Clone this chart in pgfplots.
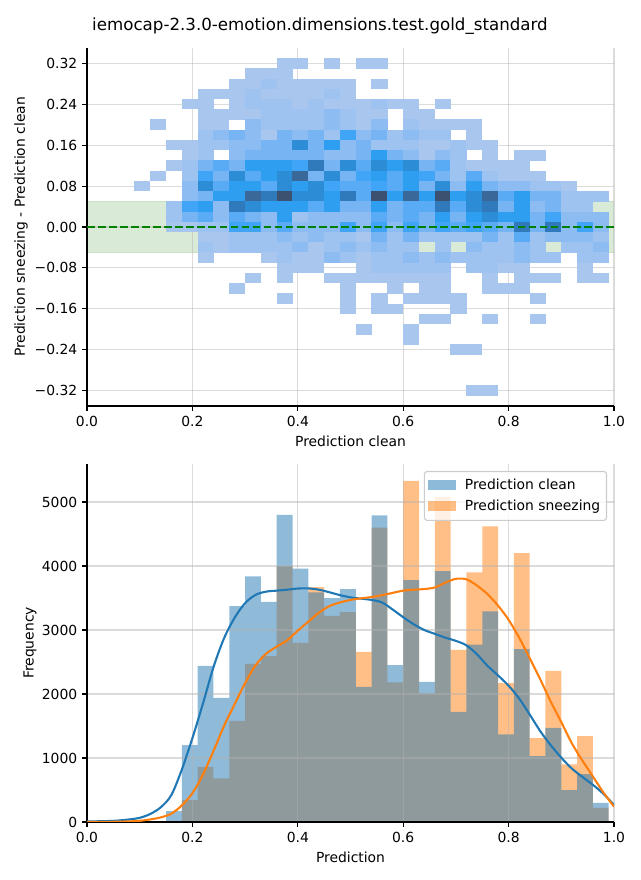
\documentclass[border=0pt]{standalone}
\usepackage{fontspec}
\setmainfont{DejaVu Sans}
\usepackage{pgfplots}
\usepackage{pgfplotstable}
\pgfplotsset{compat=1.18}

\definecolor{cblue}{RGB}{31,119,180}
\definecolor{corange}{RGB}{255,127,14}
\definecolor{bandgreen}{RGB}{217,235,215}
\definecolor{bandedge}{RGB}{200,226,200}
\definecolor{dgreen}{RGB}{0,128,0}
\definecolor{gridc}{RGB}{176,176,176}
\definecolor{legedge}{RGB}{204,204,204}

\pgfdeclareplotmark{cell}{%
  \pgfpathrectangle{\pgfpoint{-5.79pt}{-3.78pt}}{\pgfpoint{11.58pt}{7.56pt}}%
  \pgfusepathqfill}

\pgfplotstableread[row sep=\\]{
x y c\\
0.375 0.32 1\\ 0.405 0.32 1\\ 0.465 0.32 1\\ 0.525 0.32 1\\ 0.555 0.32 1\\
0.315 0.30 1\\ 0.345 0.30 1\\ 0.375 0.30 1\\
0.285 0.28 1\\ 0.315 0.28 1\\ 0.345 0.28 2\\ 0.375 0.28 1\\ 0.405 0.28 1\\ 0.435 0.28 1\\ 0.465 0.28 1\\ 0.495 0.28 1\\ 0.555 0.28 1\\
0.225 0.26 1\\ 0.255 0.26 1\\ 0.285 0.26 1\\ 0.315 0.26 2\\ 0.345 0.26 1\\ 0.375 0.26 1\\ 0.405 0.26 1\\ 0.435 0.26 1\\ 0.465 0.26 2\\ 0.495 0.26 1\\
0.195 0.24 1\\ 0.225 0.24 1\\ 0.285 0.24 1\\ 0.315 0.24 2\\ 0.345 0.24 2\\ 0.375 0.24 2\\ 0.405 0.24 1\\ 0.435 0.24 2\\ 0.465 0.24 1\\ 0.495 0.24 1\\ 0.525 0.24 1\\ 0.555 0.24 2\\ 0.585 0.24 1\\ 0.615 0.24 1\\ 0.675 0.24 1\\
0.225 0.22 1\\ 0.255 0.22 1\\ 0.285 0.22 1\\ 0.315 0.22 1\\ 0.345 0.22 2\\ 0.375 0.22 2\\ 0.405 0.22 2\\ 0.435 0.22 2\\ 0.465 0.22 3\\ 0.495 0.22 2\\ 0.525 0.22 1\\ 0.555 0.22 1\\ 0.615 0.22 1\\ 0.645 0.22 1\\
0.135 0.20 1\\ 0.225 0.20 1\\ 0.255 0.20 1\\ 0.315 0.20 3\\ 0.345 0.20 2\\ 0.375 0.20 2\\ 0.405 0.20 2\\ 0.435 0.20 2\\ 0.465 0.20 3\\ 0.495 0.20 2\\ 0.525 0.20 1\\ 0.555 0.20 3\\ 0.615 0.20 2\\ 0.645 0.20 1\\ 0.675 0.20 1\\ 0.705 0.20 1\\ 0.735 0.20 1\\
0.225 0.18 2\\ 0.255 0.18 3\\ 0.285 0.18 4\\ 0.315 0.18 3\\ 0.345 0.18 1\\ 0.375 0.18 4\\ 0.405 0.18 3\\ 0.435 0.18 4\\ 0.465 0.18 2\\ 0.495 0.18 6\\ 0.525 0.18 3\\ 0.555 0.18 4\\ 0.585 0.18 2\\ 0.615 0.18 3\\ 0.645 0.18 2\\ 0.675 0.18 2\\ 0.735 0.18 1\\
0.165 0.16 1\\ 0.195 0.16 1\\ 0.225 0.16 2\\ 0.255 0.16 2\\ 0.285 0.16 3\\ 0.315 0.16 3\\ 0.345 0.16 4\\ 0.375 0.16 4\\ 0.405 0.16 8\\ 0.435 0.16 4\\ 0.465 0.16 7\\ 0.495 0.16 3\\ 0.525 0.16 4\\ 0.555 0.16 2\\ 0.585 0.16 2\\ 0.615 0.16 2\\ 0.645 0.16 1\\ 0.675 0.16 1\\ 0.705 0.16 2\\ 0.735 0.16 1\\ 0.765 0.16 1\\
0.195 0.14 1\\ 0.225 0.14 2\\ 0.285 0.14 3\\ 0.315 0.14 4\\ 0.345 0.14 4\\ 0.375 0.14 4\\ 0.405 0.14 4\\ 0.435 0.14 4\\ 0.465 0.14 3\\ 0.495 0.14 3\\ 0.525 0.14 4\\ 0.555 0.14 7\\ 0.585 0.14 4\\ 0.615 0.14 3\\ 0.645 0.14 1\\ 0.675 0.14 3\\ 0.705 0.14 2\\ 0.765 0.14 1\\ 0.825 0.14 1\\ 0.855 0.14 1\\
0.165 0.12 1\\ 0.195 0.12 2\\ 0.225 0.12 4\\ 0.255 0.12 5\\ 0.285 0.12 4\\ 0.315 0.12 7\\ 0.345 0.12 7\\ 0.375 0.12 7\\ 0.405 0.12 6\\ 0.435 0.12 9\\ 0.465 0.12 4\\ 0.495 0.12 8\\ 0.525 0.12 5\\ 0.555 0.12 8\\ 0.585 0.12 7\\ 0.615 0.12 8\\ 0.645 0.12 4\\ 0.675 0.12 5\\ 0.705 0.12 2\\ 0.735 0.12 1\\ 0.765 0.12 1\\ 0.795 0.12 1\\ 0.825 0.12 1\\
0.135 0.10 1\\ 0.195 0.10 2\\ 0.225 0.10 6\\ 0.255 0.10 4\\ 0.285 0.10 8\\ 0.315 0.10 5\\ 0.345 0.10 7\\ 0.375 0.10 8\\ 0.405 0.10 10\\ 0.435 0.10 4\\ 0.465 0.10 8\\ 0.495 0.10 4\\ 0.525 0.10 6\\ 0.555 0.10 7\\ 0.585 0.10 5\\ 0.615 0.10 7\\ 0.645 0.10 6\\ 0.675 0.10 4\\ 0.705 0.10 2\\ 0.735 0.10 5\\ 0.765 0.10 2\\ 0.795 0.10 1\\ 0.825 0.10 1\\ 0.855 0.10 1\\
0.105 0.08 1\\ 0.195 0.08 3\\ 0.225 0.08 8\\ 0.255 0.08 5\\ 0.285 0.08 7\\ 0.315 0.08 7\\ 0.345 0.08 5\\ 0.375 0.08 8\\ 0.405 0.08 7\\ 0.435 0.08 8\\ 0.465 0.08 6\\ 0.495 0.08 5\\ 0.525 0.08 5\\ 0.555 0.08 6\\ 0.585 0.08 5\\ 0.615 0.08 7\\ 0.645 0.08 4\\ 0.675 0.08 8\\ 0.705 0.08 3\\ 0.735 0.08 7\\ 0.765 0.08 4\\ 0.795 0.08 3\\ 0.825 0.08 3\\ 0.855 0.08 2\\ 0.885 0.08 2\\ 0.915 0.08 1\\
0.195 0.06 3\\ 0.225 0.06 4\\ 0.255 0.06 7\\ 0.285 0.06 7\\ 0.315 0.06 10\\ 0.345 0.06 9\\ 0.375 0.06 11\\ 0.405 0.06 8\\ 0.435 0.06 8\\ 0.465 0.06 7\\ 0.495 0.06 9\\ 0.525 0.06 5\\ 0.555 0.06 11\\ 0.585 0.06 7\\ 0.615 0.06 10\\ 0.645 0.06 7\\ 0.675 0.06 11\\ 0.705 0.06 7\\ 0.735 0.06 8\\ 0.765 0.06 10\\ 0.795 0.06 5\\ 0.825 0.06 7\\ 0.855 0.06 4\\ 0.885 0.06 4\\ 0.915 0.06 2\\ 0.945 0.06 2\\ 0.975 0.06 2\\
0.165 0.04 2\\ 0.195 0.04 6\\ 0.225 0.04 7\\ 0.255 0.04 3\\ 0.285 0.04 9\\ 0.315 0.04 8\\ 0.345 0.04 7\\ 0.375 0.04 7\\ 0.405 0.04 7\\ 0.435 0.04 5\\ 0.465 0.04 7\\ 0.495 0.04 4\\ 0.525 0.04 4\\ 0.555 0.04 7\\ 0.585 0.04 4\\ 0.615 0.04 5\\ 0.645 0.04 5\\ 0.675 0.04 9\\ 0.705 0.04 5\\ 0.735 0.04 8\\ 0.765 0.04 9\\ 0.795 0.04 4\\ 0.825 0.04 7\\ 0.855 0.04 3\\ 0.885 0.04 4\\ 0.915 0.04 2\\ 0.945 0.04 2\\
0.165 0.02 2\\ 0.195 0.02 4\\ 0.225 0.02 5\\ 0.255 0.02 3\\ 0.285 0.02 5\\ 0.315 0.02 4\\ 0.345 0.02 3\\ 0.375 0.02 7\\ 0.405 0.02 2\\ 0.435 0.02 3\\ 0.465 0.02 3\\ 0.495 0.02 3\\ 0.525 0.02 3\\ 0.555 0.02 5\\ 0.585 0.02 4\\ 0.615 0.02 5\\ 0.645 0.02 4\\ 0.675 0.02 7\\ 0.705 0.02 4\\ 0.735 0.02 7\\ 0.765 0.02 8\\ 0.795 0.02 7\\ 0.825 0.02 7\\ 0.855 0.02 4\\ 0.885 0.02 6\\ 0.915 0.02 3\\ 0.945 0.02 3\\ 0.975 0.02 3\\
0.165 0 1\\ 0.195 0 1\\ 0.225 0 2\\ 0.255 0 2\\ 0.285 0 6\\ 0.315 0 6\\ 0.345 0 3\\ 0.375 0 5\\ 0.405 0 3\\ 0.435 0 3\\ 0.465 0 3\\ 0.495 0 6\\ 0.525 0 3\\ 0.555 0 6\\ 0.585 0 3\\ 0.615 0 6\\ 0.645 0 4\\ 0.675 0 6\\ 0.705 0 5\\ 0.735 0 6\\ 0.765 0 5\\ 0.795 0 4\\ 0.825 0 9\\ 0.855 0 4\\ 0.885 0 9\\ 0.915 0 3\\ 0.945 0 6\\ 0.975 0 3\\
0.225 -0.02 1\\ 0.255 -0.02 1\\ 0.285 -0.02 2\\ 0.315 -0.02 2\\ 0.345 -0.02 2\\ 0.375 -0.02 3\\ 0.405 -0.02 2\\ 0.435 -0.02 3\\ 0.465 -0.02 2\\ 0.495 -0.02 2\\ 0.525 -0.02 1\\ 0.555 -0.02 4\\ 0.585 -0.02 2\\ 0.615 -0.02 4\\ 0.645 -0.02 2\\ 0.675 -0.02 2\\ 0.705 -0.02 2\\ 0.735 -0.02 2\\ 0.765 -0.02 4\\ 0.795 -0.02 2\\ 0.825 -0.02 5\\ 0.855 -0.02 2\\ 0.885 -0.02 3\\ 0.915 -0.02 3\\ 0.945 -0.02 3\\ 0.975 -0.02 2\\
0.225 -0.04 2\\ 0.255 -0.04 1\\ 0.285 -0.04 2\\ 0.315 -0.04 2\\ 0.345 -0.04 2\\ 0.375 -0.04 2\\ 0.405 -0.04 3\\ 0.435 -0.04 1\\ 0.465 -0.04 2\\ 0.495 -0.04 3\\ 0.525 -0.04 2\\ 0.555 -0.04 3\\ 0.585 -0.04 2\\ 0.615 -0.04 2\\ 0.675 -0.04 2\\ 0.735 -0.04 3\\ 0.765 -0.04 2\\ 0.795 -0.04 2\\ 0.825 -0.04 3\\ 0.855 -0.04 2\\ 0.915 -0.04 2\\ 0.945 -0.04 2\\ 0.975 -0.04 3\\
0.225 -0.06 1\\ 0.345 -0.06 1\\ 0.375 -0.06 2\\ 0.405 -0.06 1\\ 0.435 -0.06 1\\ 0.465 -0.06 3\\ 0.495 -0.06 2\\ 0.525 -0.06 1\\ 0.555 -0.06 2\\ 0.585 -0.06 2\\ 0.615 -0.06 3\\ 0.645 -0.06 2\\ 0.675 -0.06 3\\ 0.705 -0.06 2\\ 0.735 -0.06 2\\ 0.765 -0.06 2\\ 0.795 -0.06 2\\ 0.825 -0.06 3\\ 0.855 -0.06 2\\ 0.885 -0.06 2\\ 0.945 -0.06 2\\ 0.975 -0.06 2\\
0.375 -0.08 1\\ 0.405 -0.08 1\\ 0.435 -0.08 1\\ 0.525 -0.08 1\\ 0.555 -0.08 2\\ 0.585 -0.08 2\\ 0.615 -0.08 2\\ 0.645 -0.08 2\\ 0.675 -0.08 2\\ 0.735 -0.08 2\\ 0.765 -0.08 2\\ 0.795 -0.08 1\\ 0.825 -0.08 1\\ 0.945 -0.08 1\\
0.315 -0.10 1\\ 0.375 -0.10 1\\ 0.465 -0.10 1\\ 0.495 -0.10 1\\ 0.525 -0.10 1\\ 0.555 -0.10 1\\ 0.585 -0.10 1\\ 0.615 -0.10 1\\ 0.645 -0.10 1\\ 0.675 -0.10 1\\ 0.765 -0.10 1\\ 0.825 -0.10 1\\ 0.855 -0.10 1\\ 0.885 -0.10 1\\ 0.945 -0.10 1\\ 0.975 -0.10 1\\
0.285 -0.12 1\\ 0.495 -0.12 1\\ 0.585 -0.12 1\\ 0.645 -0.12 1\\ 0.675 -0.12 1\\ 0.765 -0.12 1\\ 0.795 -0.12 1\\ 0.825 -0.12 1\\
0.375 -0.14 1\\ 0.495 -0.14 1\\ 0.555 -0.14 1\\ 0.615 -0.14 1\\ 0.645 -0.14 1\\ 0.675 -0.14 1\\ 0.705 -0.14 1\\ 0.855 -0.14 1\\
0.495 -0.16 1\\ 0.555 -0.16 1\\ 0.585 -0.16 1\\ 0.705 -0.16 1\\
0.645 -0.18 1\\ 0.675 -0.18 1\\ 0.765 -0.18 1\\ 0.855 -0.18 1\\
0.525 -0.20 1\\ 0.615 -0.20 1\\
0.615 -0.22 1\\
0.705 -0.24 1\\ 0.735 -0.24 1\\
0.735 -0.32 1\\ 0.765 -0.32 1\\
}\heat

\pgfplotsset{
  geom/.style={
    width=379.44pt, height=257.76pt, scale only axis,
    xmin=0, xmax=1,
  },
  base/.style={
    geom,
    axis x line*=bottom, axis y line*=left,
    axis line style={line width=0.8pt, black},
    tick align=outside, major tick length=3.5pt,
    tick style={line width=0.8pt, black},
    grid=major, grid style={line width=0.8pt, gridc, opacity=0.45},
    axis on top,
    xtick={0,0.2,0.4,0.6,0.8,1},
    xticklabels={0.0,0.2,0.4,0.6,0.8,1.0},
    tick label style={font=\fontsize{10}{12}\selectfont},
    label style={font=\fontsize{10}{12}\selectfont},
    xlabel style={at={(axis description cs:0.5,-0.0978)}, anchor=center},
  }
}

\begin{document}
\begin{tikzpicture}
\useasboundingbox (-62.64pt,-41.76pt) rectangle (398.16pt,591.84pt);
\begin{axis}[base, at={(0pt,299.52pt)}, anchor=south west,
  ymin=-0.35, ymax=0.35,
  ytick={-0.32,-0.24,-0.16,-0.08,0,0.08,0.16,0.24,0.32},
  yticklabels={−0.32,−0.24,−0.16,−0.08,0.00,0.08,0.16,0.24,0.32},
  xlabel={Prediction clean},
  ylabel={Prediction sneezing - Prediction clean},
  ylabel style={at={(axis description cs:-0.1252,0.5)}, anchor=center},
  title={iemocap-2.3.0-emotion.dimensions.test.gold\_standard},
  title style={at={(axis description cs:0.4421,1.0364)}, anchor=center, font=\fontsize{12}{14.4}\selectfont},
  colormap={sb}{rgb255=(168,198,238) rgb255=(158,195,240) rgb255=(141,188,242) rgb255=(118,180,244) rgb255=(90,171,245) rgb255=(64,165,247) rgb255=(46,158,240) rgb255=(44,140,214) rgb255=(48,122,188) rgb255=(58,104,152) rgb255=(60,80,112)},
  point meta min=1, point meta max=11,
]
\fill[bandgreen, draw=bandedge, line width=0.6pt] (axis cs:0,-0.05) rectangle (axis cs:1,0.05);
\addplot[scatter, only marks, mark=cell, point meta=explicit,
  scatter/use mapped color={fill=mapped color, draw=none}]
  table[x=x, y=y, meta=c] {\heat};
\end{axis}
\begin{axis}[geom, hide axis, at={(0pt,299.52pt)}, anchor=south west, ymin=-0.35, ymax=0.35]
\addplot[dgreen, line width=1.5pt, dash pattern=on 5.55pt off 2.4pt] coordinates {(0,0) (1,0)};
\end{axis}

\begin{axis}[base, at={(0pt,0pt)}, anchor=south west,
  ymin=0, ymax=5594,
  ytick={0,1000,2000,3000,4000,5000},
  yticklabels={0,1000,2000,3000,4000,5000},
  xlabel={Prediction}, ylabel={Frequency},
  ylabel style={at={(axis description cs:-0.1082,0.5)}, anchor=center},
  legend cell align=left,
  legend style={at={(axis description cs:1,1)}, anchor=north east, xshift=-5pt, yshift=-5pt,
    draw=legedge, line width=0.8pt, fill=white, fill opacity=0.8, draw opacity=1, text opacity=1,
    rounded corners=2pt, row sep=2pt, inner ysep=3.5pt, inner xsep=2.5pt, font=\fontsize{10}{12}\selectfont},
]
\addlegendimage{legend image code/.code={\fill[cblue, fill opacity=0.5, draw=none, sharp corners] (0pt,-3.6pt) rectangle (20pt,3.6pt); \path (24.3pt,0pt);}}
\addlegendentry{Prediction clean}
\addlegendimage{legend image code/.code={\fill[corange, fill opacity=0.5, draw=none, sharp corners] (0pt,-3.6pt) rectangle (20pt,3.6pt); \path (24.3pt,0pt);}}
\addlegendentry{Prediction sneezing}
\addplot[const plot, fill=corange, fill opacity=0.5, draw=none, forget plot] coordinates {
(0.15,0) (0.18,340) (0.21,860) (0.24,680) (0.27,1580) (0.30,2470) (0.33,2590) (0.36,4000) (0.39,2800) (0.42,3670)
(0.45,3220) (0.48,3280) (0.51,2660) (0.54,4600) (0.57,2180) (0.60,5330) (0.63,2010) (0.66,5080) (0.69,2690) (0.72,3900)
(0.75,4620) (0.78,2170) (0.81,4200) (0.84,1310) (0.87,2360) (0.90,900) (0.93,1340) (0.96,220) (0.99,220)} \closedcycle;
\addplot[const plot, fill=cblue, fill opacity=0.5, draw=none, forget plot] coordinates {
(0.15,170) (0.18,1200) (0.21,2440) (0.24,1940) (0.27,3375) (0.30,3840) (0.33,3440) (0.36,4800) (0.39,3960) (0.42,3590)
(0.45,3500) (0.48,3640) (0.51,2110) (0.54,4790) (0.57,2450) (0.60,3780) (0.63,2190) (0.66,3920) (0.69,1720) (0.72,2770)
(0.75,3290) (0.78,1370) (0.81,2700) (0.84,1030) (0.87,1470) (0.90,500) (0.93,750) (0.96,300) (0.99,300)} \closedcycle;
\end{axis}
\begin{axis}[geom, hide axis, at={(0pt,0pt)}, anchor=south west, ymin=0, ymax=5594]
\addplot[cblue, line width=1.5pt, smooth] coordinates {
(0,8) (0.05,18) (0.08,40) (0.10,65) (0.12,125) (0.14,230) (0.16,420) (0.18,820) (0.20,1310) (0.22,1850) (0.24,2420)
(0.26,2870) (0.28,3190) (0.30,3420) (0.32,3550) (0.34,3600) (0.36,3615) (0.38,3630) (0.40,3648) (0.42,3650) (0.44,3630)
(0.46,3590) (0.48,3545) (0.50,3510) (0.52,3490) (0.54,3470) (0.56,3430) (0.58,3320) (0.60,3200) (0.62,3090) (0.64,3000)
(0.66,2940) (0.68,2880) (0.70,2830) (0.72,2760) (0.74,2620) (0.76,2440) (0.78,2290) (0.80,2130) (0.82,1930) (0.84,1680)
(0.86,1420) (0.88,1200) (0.90,1005) (0.92,835) (0.94,705) (0.96,580) (0.98,440) (1.00,266)};
\addplot[corange, line width=1.5pt, smooth] coordinates {
(0,0) (0.05,3) (0.08,10) (0.10,18) (0.12,40) (0.14,72) (0.16,130) (0.18,260) (0.20,450) (0.22,740) (0.24,1110)
(0.26,1500) (0.28,1840) (0.30,2170) (0.32,2450) (0.34,2630) (0.36,2740) (0.38,2840) (0.40,2990) (0.42,3130) (0.44,3270)
(0.46,3375) (0.48,3430) (0.50,3470) (0.52,3495) (0.54,3515) (0.56,3545) (0.58,3580) (0.60,3615) (0.62,3630) (0.64,3640)
(0.66,3665) (0.68,3740) (0.70,3800) (0.72,3792) (0.74,3695) (0.76,3560) (0.78,3380) (0.80,3160) (0.82,2880) (0.84,2560)
(0.86,2230) (0.88,1880) (0.90,1560) (0.92,1230) (0.94,960) (0.96,710) (0.98,460) (1.00,240)};
\end{axis}
\end{tikzpicture}
\end{document}
